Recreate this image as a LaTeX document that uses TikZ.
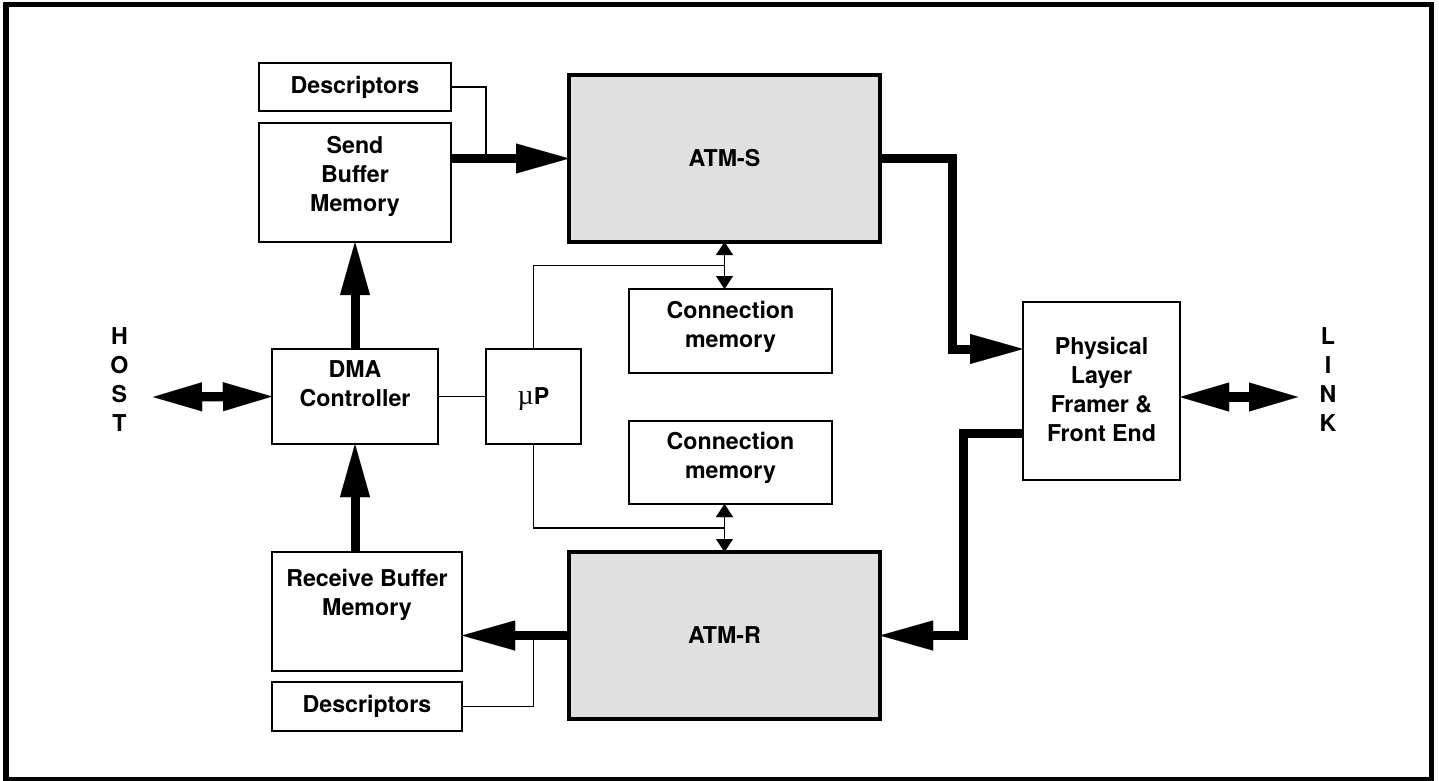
\documentclass[tikz,border=0pt]{standalone}
\usepackage{fontspec}
\setmainfont{TeX Gyre Heros}
\newfontfamily\symfont{Liberation Serif}
\usetikzlibrary{arrows.meta,calc}

\begin{document}
\begin{tikzpicture}[x=1pt,y=-1pt,
  every node/.style={font=\fontsize{23.2}{29}\selectfont\bfseries},
  blk/.style={draw,line width=2.2pt,inner sep=3pt,outer sep=0pt,
              align=center,fill=white},
  atm/.style={blk,fill=black!12,line width=3.2pt},
  thin/.style={line width=1.8pt},
  fat/.style={line width=9pt,line join=miter,
              -{Triangle[length=53pt,width=30pt,line width=0.01pt]}},
  dbl/.style={line width=9.4pt,
              {Triangle[length=49pt,width=29pt,line width=0.01pt]}-{Triangle[length=49pt,width=29pt,line width=0.01pt]}},
  tiny/.style={thin,{Triangle[length=13pt,width=17pt,line width=0.01pt]}-{Triangle[length=13pt,width=17pt,line width=0.01pt]}},
]
\useasboundingbox (0,0) rectangle (1439,781);
\draw[line width=5.3pt] (6,4.7) rectangle (1431.5,779.5);

% send side
\node[blk,minimum width=192pt,minimum height=48pt] (desS) at (355,87) {Descriptors};
\node[blk,minimum width=192pt,minimum height=119pt,text depth=17.6pt] (sendbuf) at (355,182.5) {Send\\Buffer\\Memory};
\node[atm,minimum width=311pt,minimum height=167pt] (atmS) at (724.5,158.5) {ATM-S};
\node[blk,minimum width=203pt,minimum height=84pt,text depth=13.6pt] (cmS) at (730.5,331) {Connection\\memory};

% middle row
\node[blk,minimum width=166pt,minimum height=95pt,text depth=25.4pt] (dma) at (355,396.5) {DMA\\Controller};
\node[blk,minimum width=95pt,minimum height=95pt,text depth=0pt] (up) at (533.5,396.5) {{\symfont\mdseries\fontsize{28}{29}\selectfont µ}P};
\node[blk,minimum width=157pt,minimum height=178pt,text depth=3.6pt] (phy) at (1101.5,391) {Physical\\Layer\\Framer \&\\Front End};
\node[align=center,text depth=0pt] (host) at (119.4,380) {H\\O\\S\\T};
\node[align=center,text depth=0pt] (link) at (1328,380) {L\\I\\N\\K};

% receive side
\node[blk,minimum width=203pt,minimum height=83pt,text depth=15pt] (cmR) at (730.5,462.5) {Connection\\memory};
\node[atm,minimum width=311pt,minimum height=167pt] (atmR) at (724.5,635.5) {ATM-R};
\node[blk,minimum width=190pt,minimum height=119pt,text depth=39pt] (recvbuf) at (367,611.5) {Receive Buffer\\Memory};
\node[blk,minimum width=190pt,minimum height=49pt] (desR) at (367,706.5) {Descriptors};

\coordinate (hostend) at (153,397);
\coordinate (linkend) at (1298,397);

% data paths
\draw[fat] (sendbuf.east |- atmS.west) -- (atmS.west);
\draw[fat] (dma) -- (sendbuf);
\draw[fat] (recvbuf.north -| dma.south) -- (dma.south);
\draw[fat] (atmR.west) -- (atmR.west -| recvbuf.east);
\draw[fat] (atmS.east) -- ++(72,0) |- (phy.west |- up.north);
\draw[fat] ([yshift=-42pt]phy.west) -- ++(-60,0) |- (atmR.east);
\draw[dbl] (hostend) -- (dma.west);
\draw[dbl] (phy.east |- linkend) -- (linkend);

% control lines
\draw[thin] (desS.east) -| (up.west |- atmS.west);
\draw[thin] (desR.east) -| (up.south |- atmR.west);
\draw[thin] (dma.east) -- (up.west);
\draw[thin] (up.north) |- ($(atmS.south)!.5!(atmS.south |- cmS.north)$);
\draw[thin] (up.south) |- ($(cmR.south -| atmR.north)!.5!(atmR.north)$);
\draw[tiny] (atmS.south) -- (atmS.south |- cmS.north);
\draw[tiny] (cmR.south -| atmR.north) -- (atmR.north);
\end{tikzpicture}
\end{document}
